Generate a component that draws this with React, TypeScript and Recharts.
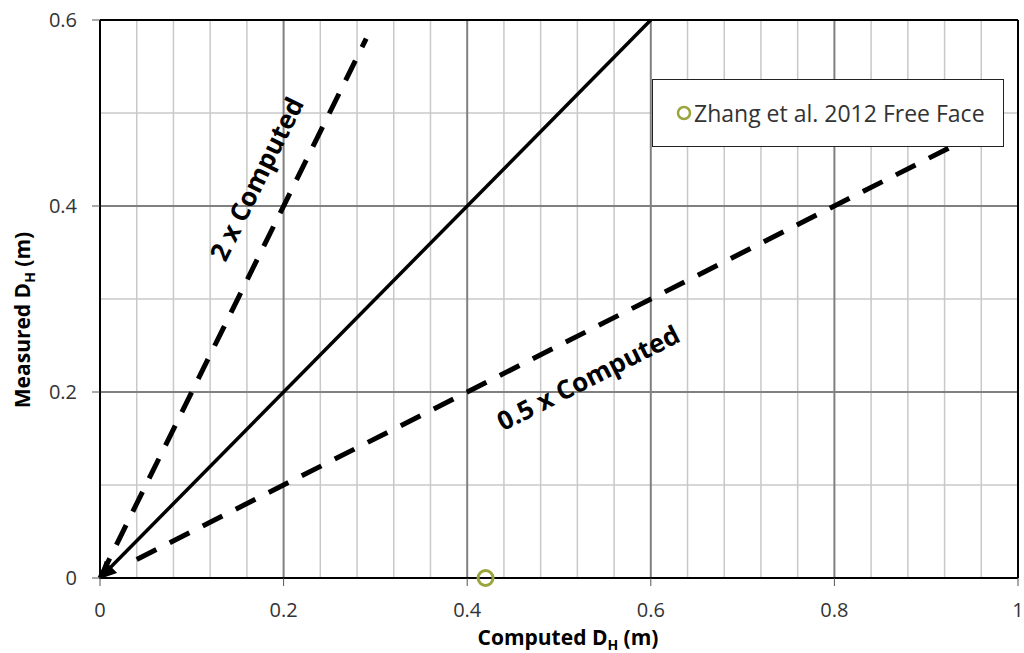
import {
  ComposedChart,
  Line,
  Scatter,
  XAxis,
  YAxis,
  ReferenceLine,
  ReferenceDot,
} from 'recharts';

// lines of the comparison plot
const oneToOne = [
  { x: 0, y: 0 },
  { x: 0.6, y: 0.6 },
];
const twoTimes = [
  { x: 0, y: 0 },
  { x: 0.29, y: 0.58 },
];
const halfTimes = [
  { x: 0.04, y: 0.02 },
  { x: 0.94, y: 0.47 },
];
const zhang2012 = [{ x: 0.42, y: 0 }];

const xTicks = [0, 0.2, 0.4, 0.6, 0.8, 1];
const yTicks = [0, 0.2, 0.4, 0.6];
const xMinor = [0.04, 0.08, 0.12, 0.16, 0.24, 0.28, 0.32, 0.36, 0.44, 0.48, 0.52, 0.56, 0.64, 0.68, 0.72, 0.76, 0.84, 0.88, 0.92, 0.96];
const xMajor = [0.2, 0.4, 0.6, 0.8];
const yMinor = [0.1, 0.3, 0.5];
const yMajor = [0.2, 0.4];

const FONT = '"Open Sans", sans-serif';
const OLIVE = '#9aa53c';

function AxisTitle({ text, x, y, rotate }: { text: string; x: number; y: number; rotate?: number }) {
  return (
    <text
      x={x}
      y={y}
      textAnchor="middle"
      fontFamily={FONT}
      fontWeight="bold"
      fontSize={21}
      fill="#000"
      transform={rotate ? `rotate(${rotate} ${x} ${y})` : undefined}
    >
      {text}
      <tspan>D</tspan>
      <tspan fontSize={14} dy={5}>H</tspan>
      <tspan dy={-5}> (m)</tspan>
    </text>
  );
}

function Annotation(props: any, text: string, angle: number) {
  const cx = props.viewBox.x;
  const cy = props.viewBox.y;
  return (
    <text
      x={cx}
      y={cy}
      textAnchor="middle"
      dominantBaseline="middle"
      fontFamily={FONT}
      fontWeight="bold"
      fontSize={26}
      fill="#000"
      transform={`rotate(${angle} ${cx} ${cy})`}
    >
      {text}
    </text>
  );
}

function LegendBox() {
  return (
    <div
      style={{
        position: 'absolute',
        left: 652,
        top: 79,
        width: 352,
        height: 68,
        border: '1px solid #222',
        background: '#fff',
        display: 'flex',
        alignItems: 'center',
        fontFamily: FONT,
        fontSize: 23,
        color: '#333',
        boxSizing: 'border-box',
        paddingLeft: 22,
        whiteSpace: 'nowrap',
      }}
    >
      <svg width={18} height={20} style={{ marginRight: 1 }}>
        <circle cx={9} cy={10} r={6} fill="none" stroke={OLIVE} strokeWidth={2.5} />
      </svg>
      Zhang et al. 2012 Free Face
    </div>
  );
}

export default function App() {
  return (
    <div style={{ position: 'absolute', left: 0, top: 0, width: 1024, height: 653, background: '#fff' }}>
      <svg width={0} height={0} style={{ position: 'absolute' }}>
        <defs>
          <marker id="arrow" viewBox="0 0 10 10" refX={9} refY={5} markerWidth={5} markerHeight={5} orient="auto-start-reverse">
            <path d="M0,0 L10,5 L0,10 z" fill="#000" />
          </marker>
        </defs>
      </svg>
      <ComposedChart width={1024} height={653} margin={{ top: 20, right: 6, left: 40, bottom: 30 }}>
        {xMinor.map((v) => (
          <ReferenceLine key={'xm' + v} x={v} stroke="#c8c8c8" strokeWidth={1.5} />
        ))}
        {yMinor.map((v) => (
          <ReferenceLine key={'ym' + v} y={v} stroke="#c8c8c8" strokeWidth={1.5} />
        ))}
        {xMajor.map((v) => (
          <ReferenceLine key={'xM' + v} x={v} stroke="#808080" strokeWidth={2} />
        ))}
        {yMajor.map((v) => (
          <ReferenceLine key={'yM' + v} y={v} stroke="#808080" strokeWidth={2} />
        ))}
        <ReferenceLine x={1} stroke="#000" strokeWidth={2} />
        <ReferenceLine y={0.6} stroke="#000" strokeWidth={2} />
        <XAxis
          type="number"
          dataKey="x"
          domain={[0, 1]}
          ticks={xTicks}
          height={45}
          tickSize={8}
          tickMargin={17}
          axisLine={{ stroke: '#000', strokeWidth: 2 }}
          tickLine={{ stroke: '#555' }}
          tick={{ fontFamily: FONT, fontSize: 20, fill: '#333' }}
          label={(p: any) => (
            <AxisTitle text="Computed " x={p.viewBox.x + p.viewBox.width / 2 + 9} y={645} />
          )}
        />
        <YAxis
          type="number"
          dataKey="y"
          domain={[0, 0.6]}
          ticks={yTicks}
          width={60}
          tickSize={8}
          tickMargin={15}
          axisLine={{ stroke: '#000', strokeWidth: 2 }}
          tickLine={{ stroke: '#555' }}
          tick={{ fontFamily: FONT, fontSize: 20, fill: '#333' }}
          tickFormatter={(v: number) => String(v)}
          label={() => <AxisTitle text="Measured " x={30} y={320} rotate={-90} />}
        />
        <Line
          data={oneToOne}
          dataKey="y"
          type="linear"
          stroke="#000"
          strokeWidth={3.5}
          dot={false}
          markerStart="url(#arrow)"
          isAnimationActive={false}
        />
        <Line
          data={twoTimes}
          dataKey="y"
          type="linear"
          stroke="#000"
          strokeWidth={5}
          strokeDasharray="22 15"
          dot={false}
          isAnimationActive={false}
        />
        <Line
          data={halfTimes}
          dataKey="y"
          type="linear"
          stroke="#000"
          strokeWidth={5}
          strokeDasharray="22 15"
          dot={false}
          isAnimationActive={false}
        />
        <Scatter
          name="Zhang et al. 2012 Free Face"
          data={zhang2012}
          isAnimationActive={false}
          shape={(p: any) => <circle cx={p.cx} cy={p.cy} r={7.5} fill="none" stroke={OLIVE} strokeWidth={3} />}
        />
        <ReferenceDot x={0.173} y={0.428} r={0} stroke="none" label={(p: any) => Annotation(p, '2 x Computed', -63.7)} />
        <ReferenceDot x={0.533} y={0.213} r={0} stroke="none" label={(p: any) => Annotation(p, '0.5 x Computed', -26.9)} />
      </ComposedChart>
      <LegendBox />
    </div>
  );
}
